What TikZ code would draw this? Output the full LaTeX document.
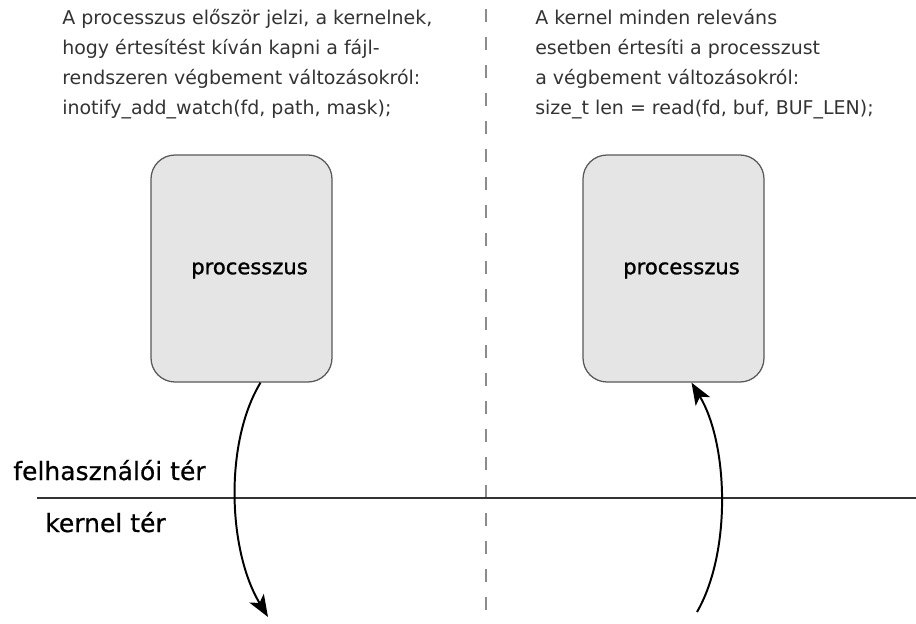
\documentclass[tikz,border=0pt]{standalone}
\usepackage{fontspec}
\setmainfont{DejaVu Sans}
\usetikzlibrary{arrows.meta}
\usetikzlibrary{positioning}

\begin{document}
\begin{tikzpicture}[
  procbox/.style={draw=black!65,fill=black!10,line width=0.9pt,rounded corners=0.6cm,
    minimum width=4.525cm,minimum height=5.675cm},
  proclabel/.style={inner sep=0pt,font=\fontsize{15}{18}\selectfont\addfontfeature{FakeBold=1.2}},
  desc/.style={align=left,anchor=north west,inner sep=0pt,font=\fontsize{13.5}{17.8}\selectfont,text=black!80},
  spacelabel/.style={anchor=base west,inner sep=0pt,font=\fontsize{17.8}{20}\selectfont\addfontfeature{FakeBold=0.6}},
  callarrow/.style={line width=1.4pt,-{Stealth[length=0.55cm,width=0.42cm,inset=0.14cm]}}
]
\useasboundingbox (0,0) rectangle (22.9,15.575);

\draw[black!45,line width=1.3pt,dash pattern=on 0.325cm off 0.375cm] (12.15,15.35) -- (12.15,0);

\node[desc] (ltext) at (1.55,15.35) {A processzus először jelzi, a kernelnek,\\[3.6pt]hogy értesítést kíván kapni a fájl-\\[3.6pt]rendszeren végbement változásokról:\\[3.6pt]inotify\_add\_watch(fd, path, mask);};
\node[desc] (rtext) at (13.375,15.35) {A kernel minden releváns\\[3.6pt]esetben értesíti a processzust\\[3.6pt]a végbement változásokról:\\[3.6pt]size\_t len = read(fd, buf, BUF\_LEN);};

\node[procbox] (lbox) at (6.0375,8.8625) {};
\node[procbox] (rbox) at (16.8375,8.8625) {};
\node[proclabel] (llabel) at ([xshift=0.2cm,yshift=-0.05cm]lbox.center) {processzus};
\node[proclabel] (rlabel) at ([xshift=0.2cm,yshift=-0.05cm]rbox.center) {processzus};

\draw[black!80,line width=0.9pt] (0.925,3.125) -- (22.9,3.125);
\node[spacelabel] (user) at (0.325,3.575) {felhasználói tér};
\node[spacelabel] (kern) at (1.125,2.275) {kernel tér};

\coordinate (lstart) at ([xshift=0.475cm]lbox.south);
\coordinate (lend) at (6.7,0.15);
\draw[callarrow] (lstart) .. controls (5.6,4.5) and (5.7,1.8) .. (lend);

\coordinate (rstart) at (17.425,0.275);
\coordinate (rend) at ([xshift=0.45cm]rbox.south);
\draw[callarrow] (rstart) .. controls (18.3,1.8) and (18.2,4.5) .. (rend);

\end{tikzpicture}
\end{document}
